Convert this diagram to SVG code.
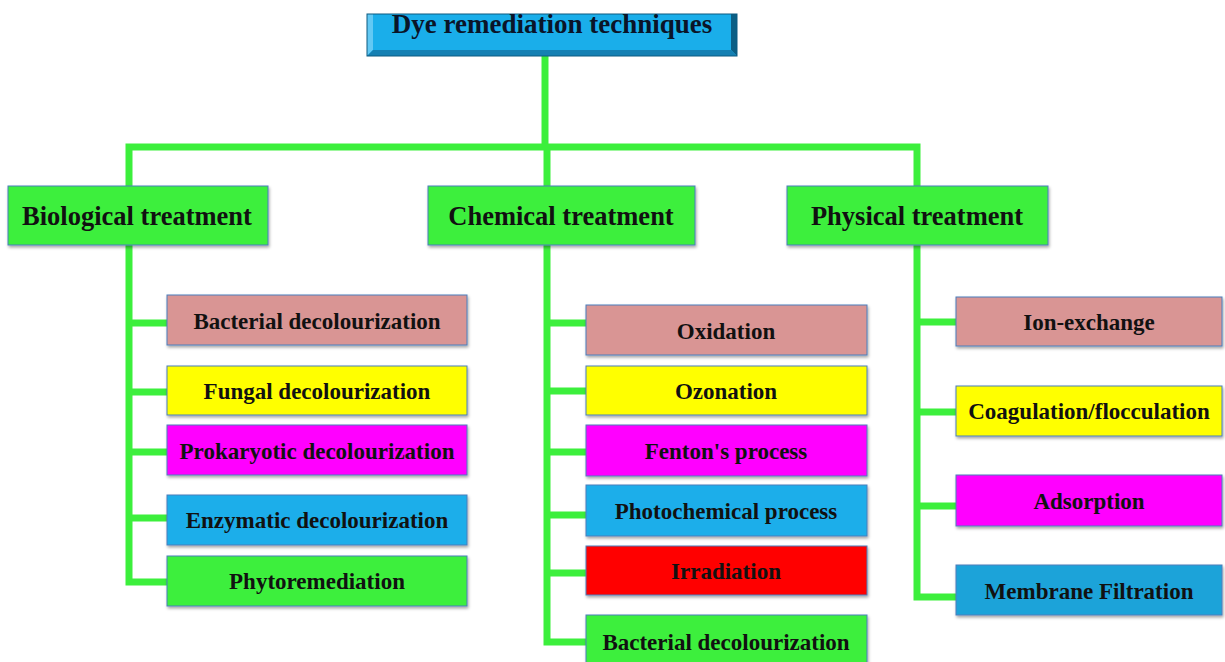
<svg xmlns="http://www.w3.org/2000/svg" width="1225" height="662" viewBox="0 0 1225 662">
<defs>
<filter id="sh" x="-5%" y="-10%" width="110%" height="130%">
<feDropShadow dx="1" dy="2" stdDeviation="1.5" flood-color="#000" flood-opacity="0.35"/>
</filter>
</defs>
<style>
.box{stroke:#4a7ebb;stroke-width:1;filter:url(#sh)}
.t{font-family:"Liberation Serif","Times New Roman",serif;font-weight:bold;fill:#111;text-anchor:middle}
.s{font-size:23px}
.h{font-size:26.5px}
.con{fill:none;stroke:#3cef3c;stroke-width:7;stroke-linejoin:miter}
</style>
<rect width="1225" height="662" fill="#fff"/>
<g id="connectors">
<path class="con" d="M545,56 V147"/>
<path class="con" d="M129,186 V147 H917 V186"/>
<path class="con" d="M547,147 V186"/>
<path class="con" d="M129,245 V582 H167"/>
<path class="con" d="M129,323 H167 M129,392 H167 M129,452 H167 M129,518 H167"/>
<path class="con" d="M547,245 V642 H586"/>
<path class="con" d="M547,323 H586 M547,391 H586 M547,452 H586 M547,515 H586 M547,573 H586"/>
<path class="con" d="M917,245 V597 H956"/>
<path class="con" d="M917,322 H956 M917,412 H956 M917,506 H956"/>
</g>
<g id="title">
<rect x="367" y="14" width="370" height="42" fill="#1aaeea"/>
<polygon points="367,14 373,14 373,50 367,56" fill="#62c9f4"/>
<polygon points="737,14 731,14 731,50 737,56" fill="#0b5f85"/>
<polygon points="367,56 373,50 731,50 737,56" fill="#1580b3"/>
<rect x="367" y="14" width="370" height="42" fill="none" stroke="#0d5a80" stroke-width="1"/>
<text class="t" x="552" y="33" font-size="27" style="fill:#0a1428">Dye remediation techniques</text>
</g>
<g id="bio">
<rect class="box" x="8" y="186" width="260" height="59" fill="#3cef3c"/>
<text class="t h" x="137" y="225">Biological treatment</text>
</g>
<g id="chem">
<rect class="box" x="428" y="186" width="267" height="59" fill="#3cef3c"/>
<text class="t h" x="561" y="225">Chemical treatment</text>
</g>
<g id="phys">
<rect class="box" x="787" y="186" width="261" height="59" fill="#3cef3c"/>
<text class="t h" x="917" y="225">Physical treatment</text>
</g>
<g id="bio1"><rect class="box" x="167" y="295" width="300" height="50" fill="#d99594"/><text class="t s" x="317" y="329">Bacterial decolourization</text></g>
<g id="bio2"><rect class="box" x="167" y="366" width="300" height="49" fill="#ffff00"/><text class="t s" x="317" y="399">Fungal decolourization</text></g>
<g id="bio3"><rect class="box" x="167" y="425" width="300" height="50" fill="#ff00ff"/><text class="t s" x="317" y="459">Prokaryotic decolourization</text></g>
<g id="bio4"><rect class="box" x="167" y="495" width="300" height="50" fill="#1aaeea"/><text class="t s" x="317" y="528">Enzymatic decolourization</text></g>
<g id="bio5"><rect class="box" x="167" y="556" width="300" height="50" fill="#3cef3c"/><text class="t s" x="317" y="589">Phytoremediation</text></g>
<g id="chem1"><rect class="box" x="586" y="305" width="281" height="50" fill="#d99594"/><text class="t s" x="726" y="339">Oxidation</text></g>
<g id="chem2"><rect class="box" x="586" y="366" width="281" height="49" fill="#ffff00"/><text class="t s" x="726" y="399">Ozonation</text></g>
<g id="chem3"><rect class="box" x="586" y="425" width="281" height="51" fill="#ff00ff"/><text class="t s" x="726" y="459">Fenton's process</text></g>
<g id="chem4"><rect class="box" x="586" y="485" width="281" height="51" fill="#1aaeea"/><text class="t s" x="726" y="519">Photochemical process</text></g>
<g id="chem5"><rect class="box" x="586" y="546" width="281" height="49" fill="#ff0000"/><text class="t s" x="726" y="579">Irradiation</text></g>
<g id="chem6"><rect class="box" x="586" y="615" width="281" height="50" fill="#3cef3c"/><text class="t s" x="726" y="650">Bacterial decolourization</text></g>
<g id="phys1"><rect class="box" x="956" y="297" width="266" height="49" fill="#d99594"/><text class="t s" x="1089" y="330">Ion-exchange</text></g>
<g id="phys2"><rect class="box" x="956" y="386" width="266" height="50" fill="#ffff00"/><text class="t s" x="1089" y="419">Coagulation/flocculation</text></g>
<g id="phys3"><rect class="box" x="956" y="475" width="266" height="51" fill="#ff00ff"/><text class="t s" x="1089" y="509">Adsorption</text></g>
<g id="phys4"><rect class="box" x="956" y="565" width="266" height="50" fill="#1ea3d9"/><text class="t s" x="1089" y="599">Membrane Filtration</text></g>
</svg>
